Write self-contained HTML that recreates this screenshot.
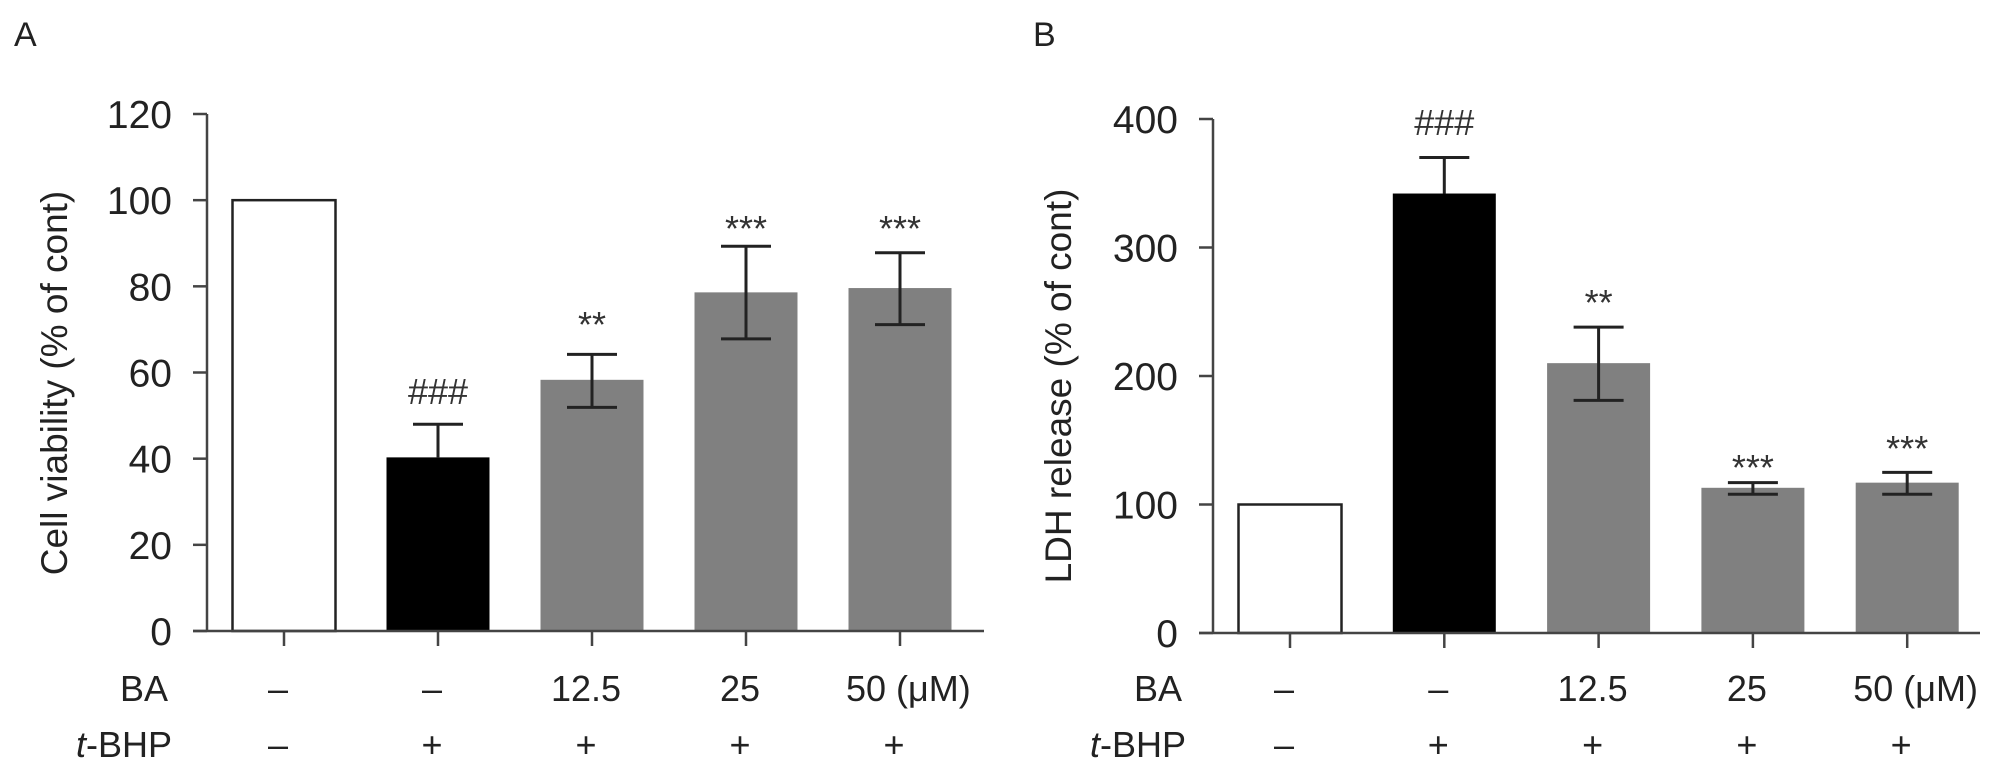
<!DOCTYPE html>
<html><head><meta charset="utf-8"><style>
html,body{margin:0;padding:0;background:#fff;}
svg{display:block;font-family:"Liberation Sans",Arial,sans-serif;}
</style></head><body>
<svg id="fig" width="2008" height="779" viewBox="0 0 2008 779" xmlns="http://www.w3.org/2000/svg"></svg>
<script>
const categories = ["control", "t-BHP", "BA 12.5", "BA 25", "BA 50"];
const baLabels = ["\u2013", "\u2013", "12.5", "25", "50 (\u03bcM)"];
const tbhpLabels = ["\u2013", "+", "+", "+", "+"];
const viabilityValues = [100, 40.3, 58.3, 78.6, 79.6];
const viabilityErrLow = [100, 40.3, 51.9, 67.8, 71.1];
const viabilityErrHigh = [100, 48, 64.2, 89.3, 87.8];
const viabilitySig = ["", "###", "**", "***", "***"];
const viabilityTicks = [0, 20, 40, 60, 80, 100, 120];
const ldhValues = [100, 342, 210, 113, 117];
const ldhErrLow = [100, 342, 181, 108, 108];
const ldhErrHigh = [100, 370, 238, 117, 125];
const ldhSig = ["", "###", "**", "***", "***"];
const ldhTicks = [0, 100, 200, 300, 400];
const fills = ["#ffffff", "#000000", "#808080", "#808080", "#808080"];

const NS = "http://www.w3.org/2000/svg";
const svg = document.getElementById("fig");
function mk(tag, attrs, parent, text) {
  const e = document.createElementNS(NS, tag);
  for (const k in attrs) e.setAttribute(k, attrs[k]);
  if (text !== undefined) e.textContent = text;
  (parent || svg).appendChild(e);
  return e;
}

function panel(cfg) {
  const g = mk("g", {});
  
  
  const yScale = v => cfg.y0 - (v / cfg.ymax) * (cfg.y0 - cfg.yTop);
  const xScale = i => cfg.x0 + cfg.firstC + i * cfg.step;
  const lbl = mk("text", {x: cfg.letterX, y: 46, "font-size": 34, fill: "#222"}, g, cfg.letter);
  
  
  // bars
  cfg.values.forEach((v, i) => {
    const cx = xScale(i), w = 103;
    const r = mk("rect", {x: cx - w/2, y: yScale(v), width: w, height: cfg.y0 - yScale(v), fill: fills[i], stroke: i === 0 ? "#222" : "none", "stroke-width": 2.5}, g);
    
    
    if (i > 0) {
      const hi = yScale(cfg.errHigh[i]), lo = yScale(cfg.errLow[i]);
      const eb = mk("path", {d: `M${cx},${hi}V${lo}M${cx-25},${hi}H${cx+25}` + (i > 1 ? `M${cx-25},${lo}H${cx+25}` : ""), stroke: "#222", "stroke-width": 3, fill: "none"}, g);
      
      
    }
    if (cfg.sig[i]) {
      const s = mk("text", {x: cx, y: cfg.sigY[i] + 13, "font-size": 36, "text-anchor": "middle", fill: "#333"}, g, cfg.sig[i]);
      
      
    }
    const ct = mk("line", {x1: cx, x2: cx, y1: cfg.y0, y2: cfg.y0 + 15, stroke: "#444", "stroke-width": 2.5}, g);
    
    
    const b = mk("text", {x: i === 4 ? cx - 54 : cx - 6, y: 701, "font-size": 36, "text-anchor": i === 4 ? "start" : "middle", fill: "#222"}, g, baLabels[i]);
    
    
    const t = mk("text", {x: cx - 6, y: 757, "font-size": 36, "text-anchor": "middle", fill: "#222"}, g, tbhpLabels[i]);
    
    
  });
  // axes
  const ax = mk("path", {d: `M${cfg.x0},${cfg.yTop}V${cfg.y0}M${cfg.x0 - 14},${cfg.y0}H${cfg.xEnd}`, stroke: "#444", "stroke-width": 2.5, fill: "none"}, g);
  
  
  cfg.ticks.forEach(tv => {
    const y = yScale(tv);
    const tk = mk("line", {x1: cfg.x0 - 14, x2: cfg.x0, y1: y, y2: y, stroke: "#444", "stroke-width": 2.5}, g);
    
    
    const tl = mk("text", {x: cfg.x0 - 35, y: y + 14, "font-size": 39, "text-anchor": "end", fill: "#222"}, g, tv);
    
    
  });
  const yt = mk("text", {x: 0, y: 0, "font-size": 37, "text-anchor": "middle", fill: "#222", transform: `translate(${cfg.titleX},${cfg.titleY}) rotate(-90)`}, g, cfg.title);
  
  
  const ba = mk("text", {x: cfg.rowLabelX, y: 701, "font-size": 36, "text-anchor": "end", fill: "#222"}, g, "BA");
  
  
  const tb = mk("text", {x: cfg.rowLabelX + 4, y: 757, "font-size": 36, "text-anchor": "end", fill: "#222"}, g);
  
  
  mk("tspan", {"font-style": "italic"}, tb, "t");
  mk("tspan", {}, tb, "-BHP");
}

panel({name: "panel-a-cell-viability", letter: "A", letterX: 14, x0: 207, xEnd: 984, y0: 631, yTop: 114, ymax: 120,
  firstC: 77, step: 154, values: viabilityValues, errLow: viabilityErrLow, errHigh: viabilityErrHigh,
  sig: viabilitySig, sigY: [0, 391, 324, 228, 228], ticks: viabilityTicks,
  title: "Cell viability (% of cont)", titleX: 67, titleY: 383, rowLabelX: 168});
panel({name: "panel-b-ldh-release", letter: "B", letterX: 1033, x0: 1213, xEnd: 1980, y0: 633, yTop: 119, ymax: 400,
  firstC: 77, step: 154.3, values: ldhValues, errLow: ldhErrLow, errHigh: ldhErrHigh,
  sig: ldhSig, sigY: [0, 122, 302, 467, 448], ticks: ldhTicks,
  title: "LDH release (% of cont)", titleX: 1071, titleY: 386, rowLabelX: 1182});
</script>
</body></html>
